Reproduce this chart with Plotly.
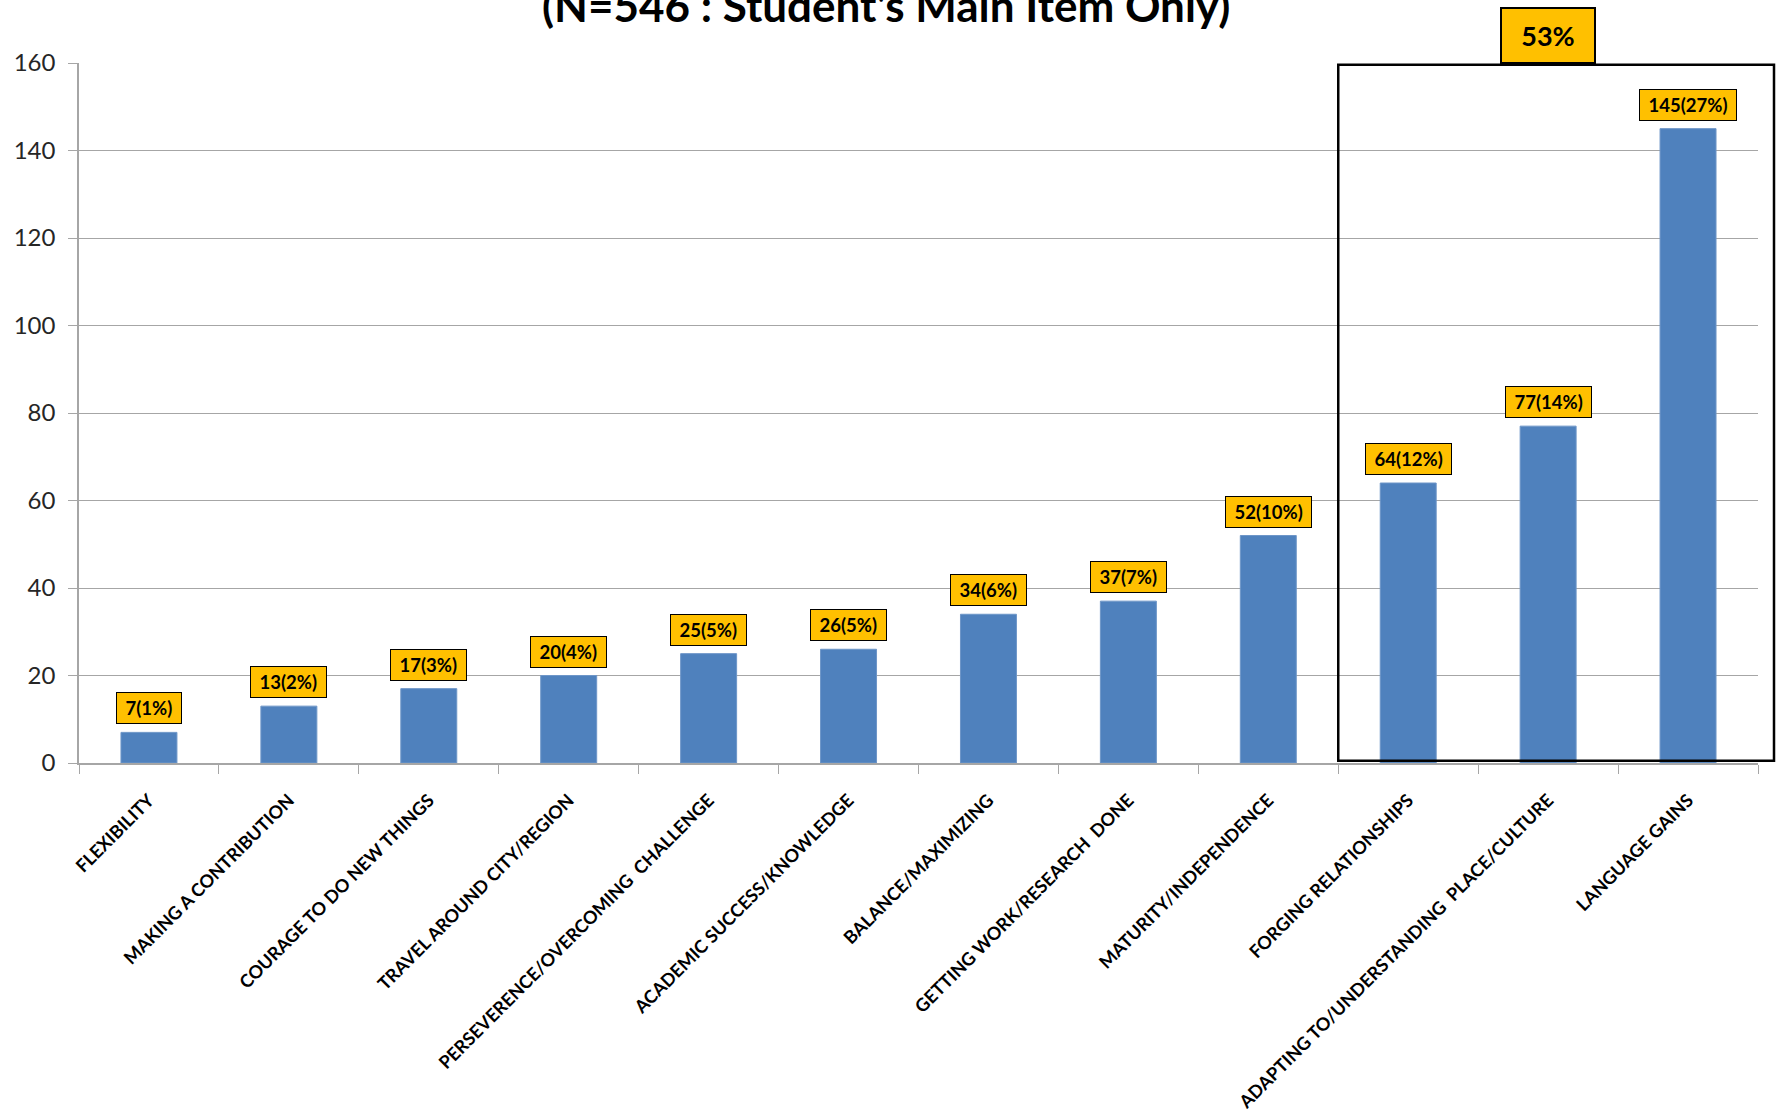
import plotly.graph_objects as go

categories = [
    "FLEXIBILITY",
    "MAKING A CONTRIBUTION",
    "COURAGE TO DO NEW THINGS",
    "TRAVEL AROUND CITY/REGION",
    "PERSEVERENCE/OVERCOMING\u00a0 CHALLENGE",
    "ACADEMIC SUCCESS/KNOWLEDGE",
    "BALANCE/MAXIMIZING",
    "GETTING WORK/RESEARCH\u00a0 DONE",
    "MATURITY/INDEPENDENCE",
    "FORGING RELATIONSHIPS",
    "ADAPTING TO/UNDERSTANDING\u00a0 PLACE/CULTURE",
    "LANGUAGE GAINS",
]
counts = [7, 13, 17, 20, 25, 26, 34, 37, 52, 64, 77, 145]
percents = [1, 2, 3, 4, 5, 5, 6, 7, 10, 12, 14, 27]
y_ticks = [0, 20, 40, 60, 80, 100, 120, 140, 160]
title_text = "(N=546 : Student's Main Item Only)"
highlight_start = 9          # first highlighted category index
highlight_label = "53%"
highlight_label_index = 10

FONT = "Lato"
GRID = "#A6A6A6"
BAR = "#4F81BD"
GOLD = "#FFC000"

W, H = 1776, 1112
ml, mr, mt, mb = 79, 18, 63, 349

fig = go.Figure()
fig.add_trace(go.Bar(
    x=categories, y=counts, marker_color=BAR,
    marker_line_color="#6E96C8", marker_line_width=1,
    width=0.4, showlegend=False, hoverinfo="skip",
))

annotations = []
for c, v, p in zip(categories, counts, percents):
    annotations.append(dict(
        x=c, y=v, xref="x", yref="y", yanchor="bottom", yshift=8,
        text=f"\u00a0{v}({p}%)\u00a0", showarrow=False,
        font=dict(family=FONT, size=18.5, color="black", weight="bold"),
        bgcolor=GOLD, bordercolor="black", borderwidth=1, borderpad=4,
    ))

# highlight label box
annotations.append(dict(
    x=categories[highlight_label_index], y=160, xref="x", yref="y",
    yanchor="bottom", yshift=-1,
    text=highlight_label, showarrow=False,
    font=dict(family=FONT, size=27, color="black", weight="bold"),
    bgcolor=GOLD, bordercolor="black", borderwidth=2, borderpad=2,
    width=88, height=49,
))

plot_w = W - ml - mr
annotations.append(dict(
    x=(886 - ml) / plot_w, y=1, xref="paper", yref="paper",
    xanchor="center", yanchor="bottom", yshift=30,
    text=title_text, showarrow=False,
    font=dict(family=FONT, size=44, color="black", weight="bold"),
))

n = len(categories)
x0 = (highlight_start) / n
x1 = 1 + 16 / plot_w
fig.add_shape(type="rect", xref="paper", yref="paper",
              x0=x0, x1=x1, y0=0.5 / 160, y1=159.6 / 160,
              line=dict(color="black", width=2.5), fillcolor="rgba(0,0,0,0)",
              layer="above")

fig.update_layout(
    width=W, height=H,
    margin=dict(l=ml, r=mr, t=mt, b=mb, pad=0),
    paper_bgcolor="white", plot_bgcolor="white",
    font=dict(family=FONT, color="black"),
    annotations=annotations,
    bargap=0.6,
)
fig.update_xaxes(
    type="category", range=[-0.5, n - 0.5], automargin=False,
    tickangle=-45, tickson="boundaries", ticks="outside", ticklen=9,
    tickcolor=GRID, showline=True, linecolor=GRID, linewidth=1.5,
    showgrid=False, ticklabelstandoff=18,
    tickfont=dict(family=FONT, size=18, color="black", weight="bold"),
)
fig.update_yaxes(
    range=[0, 160], tickvals=y_ticks, ticks="outside", ticklen=9,
    automargin=False,
    tickcolor=GRID, showline=True, linecolor=GRID, linewidth=1.5,
    showgrid=True, gridcolor=GRID, gridwidth=1.2, zeroline=False,
    ticklabelstandoff=8,
    tickfont=dict(family=FONT, size=24, color="#262626"),
)

fig.write_html(
    "out.html",
    config={"displayModeBar": False},
    post_script="document.body.style.margin='0';document.body.style.overflow='hidden';",
)
